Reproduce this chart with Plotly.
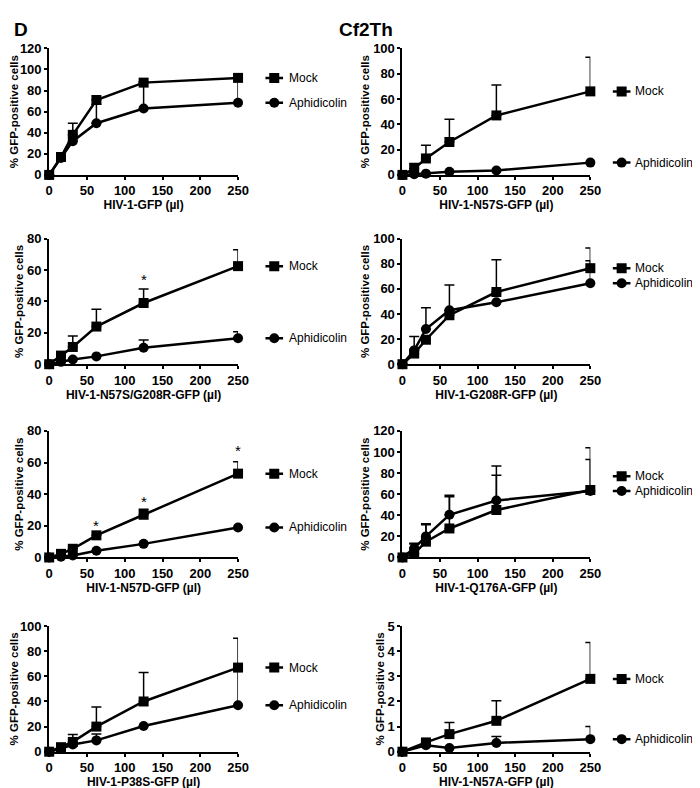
import plotly.graph_objects as go

# ---------------- data ----------------
doses = [0, 15.625, 31.25, 62.5, 125, 250]
doses_n57a = [0, 31.25, 62.5, 125, 250]

x_titles = ["HIV-1-GFP (µl)", "HIV-1-N57S-GFP (µl)",
            "HIV-1-N57S/G208R-GFP (µl)", "HIV-1-G208R-GFP (µl)",
            "HIV-1-N57D-GFP (µl)", "HIV-1-Q176A-GFP (µl)",
            "HIV-1-P38S-GFP (µl)", "HIV-1-N57A-GFP (µl)"]

y_max = [120, 100, 80, 100, 80, 120, 100, 5]
y_dtick = [20, 20, 20, 20, 20, 20, 20, 1]

mock_gfp = [0, 17, 38, 71, 87.5, 92]
mock_gfp_err = [0, 3.5, 11, 0, 0, 0]
aph_gfp = [0, 16, 32, 49, 63, 68.5]
aph_gfp_err = [0, 0, 0, 18, 25, 23]

mock_n57s = [0, 5, 13, 26, 47, 66]
mock_n57s_err = [0, 4, 10.5, 18, 24, 27]
aph_n57s = [0, 0.5, 1, 2.5, 3.5, 9.7]
aph_n57s_err = [0, 0, 0, 0, 0, 0]

mock_n57s_g208r = [0, 5.5, 11, 24, 39, 62.5]
mock_n57s_g208r_err = [0, 0, 7, 11, 9, 10.5]
aph_n57s_g208r = [0, 1.5, 3, 5, 10.5, 16.5]
aph_n57s_g208r_err = [0, 0, 0, 0, 5, 4.2]

mock_g208r = [0, 8.5, 19.5, 39, 57.5, 76.5]
mock_g208r_err = [0, 0, 0, 0, 25.8, 16]
aph_g208r = [0, 11, 28, 43, 49.3, 64.5]
aph_g208r_err = [0, 11, 17, 20, 0, 18]

mock_n57d = [0, 2.3, 5.5, 14, 27, 53]
mock_n57d_err = [0, 0, 0, 0, 3.5, 7.5]
aph_n57d = [0, 0.5, 1.3, 4.2, 8.6, 19]
aph_n57d_err = [0, 0, 0, 0, 0, 0]

mock_q176a = [0, 3.7, 15, 27.5, 45, 64]
mock_q176a_err = [0, 9, 16, 30, 33, 40]
aph_q176a = [0, 8.7, 20, 40.5, 54, 63]
aph_q176a_err = [0, 4.7, 12, 18.5, 32.7, 30]

mock_p38s = [0, 3.6, 7.8, 20, 40, 67]
mock_p38s_err = [0, 0, 6, 15.7, 23, 23.4]
aph_p38s = [0, 2.3, 5.7, 9, 20.5, 37]
aph_p38s_err = [0, 0, 0, 5, 0, 30]

mock_n57a = [0, 0.37, 0.7, 1.23, 2.9]
mock_n57a_err = [0, 0.05, 0.46, 0.8, 1.45]
aph_n57a = [0, 0.26, 0.15, 0.35, 0.5]
aph_n57a_err = [0, 0, 0, 0.26, 0.5]

panel_x = [doses, doses, doses, doses, doses, doses, doses, doses_n57a]
panel_mock = [mock_gfp, mock_n57s, mock_n57s_g208r, mock_g208r,
              mock_n57d, mock_q176a, mock_p38s, mock_n57a]
panel_mock_err = [mock_gfp_err, mock_n57s_err, mock_n57s_g208r_err, mock_g208r_err,
                  mock_n57d_err, mock_q176a_err, mock_p38s_err, mock_n57a_err]
panel_aph = [aph_gfp, aph_n57s, aph_n57s_g208r, aph_g208r,
             aph_n57d, aph_q176a, aph_p38s, aph_n57a]
panel_aph_err = [aph_gfp_err, aph_n57s_err, aph_n57s_g208r_err, aph_g208r_err,
                 aph_n57d_err, aph_q176a_err, aph_p38s_err, aph_n57a_err]

# significance marks: (panel index, x, y)
stars = [(2, 125, 54), (4, 62.5, 20.5), (4, 125, 35.5), (4, 250, 67.5)]

# ---------------- layout ----------------
W, H = 700, 788
FONT = "Arial, Liberation Sans, sans-serif"

col_px = [(38, 231), (399, 591)]
row_px = [(34, 163), (228, 356), (424, 553), (623, 751)]

fig = go.Figure()
shapes = []
annotations = []

for i in range(8):
    r, c = divmod(i, 2)
    ax = "" if i == 0 else str(i + 1)
    xa, ya = "x" + ax, "y" + ax
    x0, x1 = col_px[c]
    t0, b0 = row_px[r]
    xd = [x0 / W, x1 / W]
    yd = [1 - b0 / H, 1 - t0 / H]

    common = dict(showline=True, linewidth=2, linecolor="black",
                  ticks="outside", ticklen=3, tickwidth=2, tickcolor="black",
                  showgrid=False, zeroline=False,
                  tickfont=dict(family=FONT, size=13, color="black", weight="bold"))
    fig.layout["xaxis" + ax] = dict(domain=xd, anchor=ya, range=[0, 250],
                                    tickvals=[0, 50, 100, 150, 200, 250],
                                    title=dict(text=x_titles[i], standoff=0,
                                               font=dict(family=FONT, size=12, color="black", weight="bold")),
                                    **common)
    fig.layout["yaxis" + ax] = dict(domain=yd, anchor=xa, range=[0, y_max[i]],
                                    dtick=y_dtick[i], tick0=0,
                                    title=dict(text="% GFP-positive cells", standoff=1,
                                               font=dict(family=FONT, size=11.5, color="black", weight="bold")),
                                    **common)

    xs = panel_x[i]
    for vals, errs, sym in [(panel_aph[i], panel_aph_err[i], "circle"),
                            (panel_mock[i], panel_mock_err[i], "square")]:
        fig.add_trace(go.Scatter(
            x=xs, y=vals, xaxis=xa, yaxis=ya, mode="lines+markers",
            line=dict(color="black", width=2.5),
            marker=dict(symbol=sym, size=10, color="black"),
            error_y=dict(type="data", array=errs, arrayminus=[0] * len(errs),
                         symmetric=False, color="black", thickness=1.5, width=5),
            cliponaxis=False, showlegend=False))

    # legend next to the last data point
    ly_mock = panel_mock[i][-1]
    ly_aph = panel_aph[i][-1]
    if i == 5:
        ly_mock, ly_aph = 77, 63
    gx0 = (259 if c == 0 else 614) / W
    gx1 = (277 if c == 0 else 632) / W
    gxm = (gx0 + gx1) / 2
    tx = (281 if c == 0 else 635) / W
    for ly, name, kind in [(ly_mock, "Mock", "rect"), (ly_aph, "Aphidicolin", "circle")]:
        shapes.append(dict(type="line", xref="paper", yref=ya, x0=gx0, x1=gx1,
                           y0=ly, y1=ly, line=dict(color="black", width=2.5)))
        shapes.append(dict(type=kind, xref="paper", yref=ya, xsizemode="pixel",
                           ysizemode="pixel", xanchor=gxm, yanchor=ly,
                           x0=-5, x1=5, y0=-5, y1=5,
                           fillcolor="black", line=dict(color="black", width=0)))
        annotations.append(dict(xref="paper", yref=ya, x=tx, y=ly, text=name,
                                showarrow=False, xanchor="left", yanchor="middle",
                                font=dict(family=FONT, size=12, color="black")))

for (pi, sx, sy) in stars:
    ax = "" if pi == 0 else str(pi + 1)
    annotations.append(dict(xref="x" + ax, yref="y" + ax, x=sx, y=sy, text="*",
                            showarrow=False, yanchor="middle",
                            font=dict(family=FONT, size=15, color="black")))

annotations.append(dict(xref="paper", yref="paper", x=0, y=1 - 2 / H, text="<b>D</b>",
                        showarrow=False, xanchor="left", yanchor="top",
                        font=dict(family=FONT, size=19, color="black")))
annotations.append(dict(xref="paper", yref="paper", x=332 / W, y=1 - 2 / H, text="<b>Cf2Th</b>",
                        showarrow=False, xanchor="left", yanchor="top",
                        font=dict(family=FONT, size=19, color="black")))

fig.update_layout(width=W, height=H, margin=dict(l=0, r=0, t=0, b=0),
                  paper_bgcolor="white", plot_bgcolor="white",
                  shapes=shapes, annotations=annotations,
                  font=dict(family=FONT, color="black"))

fig.write_html("out.html")
